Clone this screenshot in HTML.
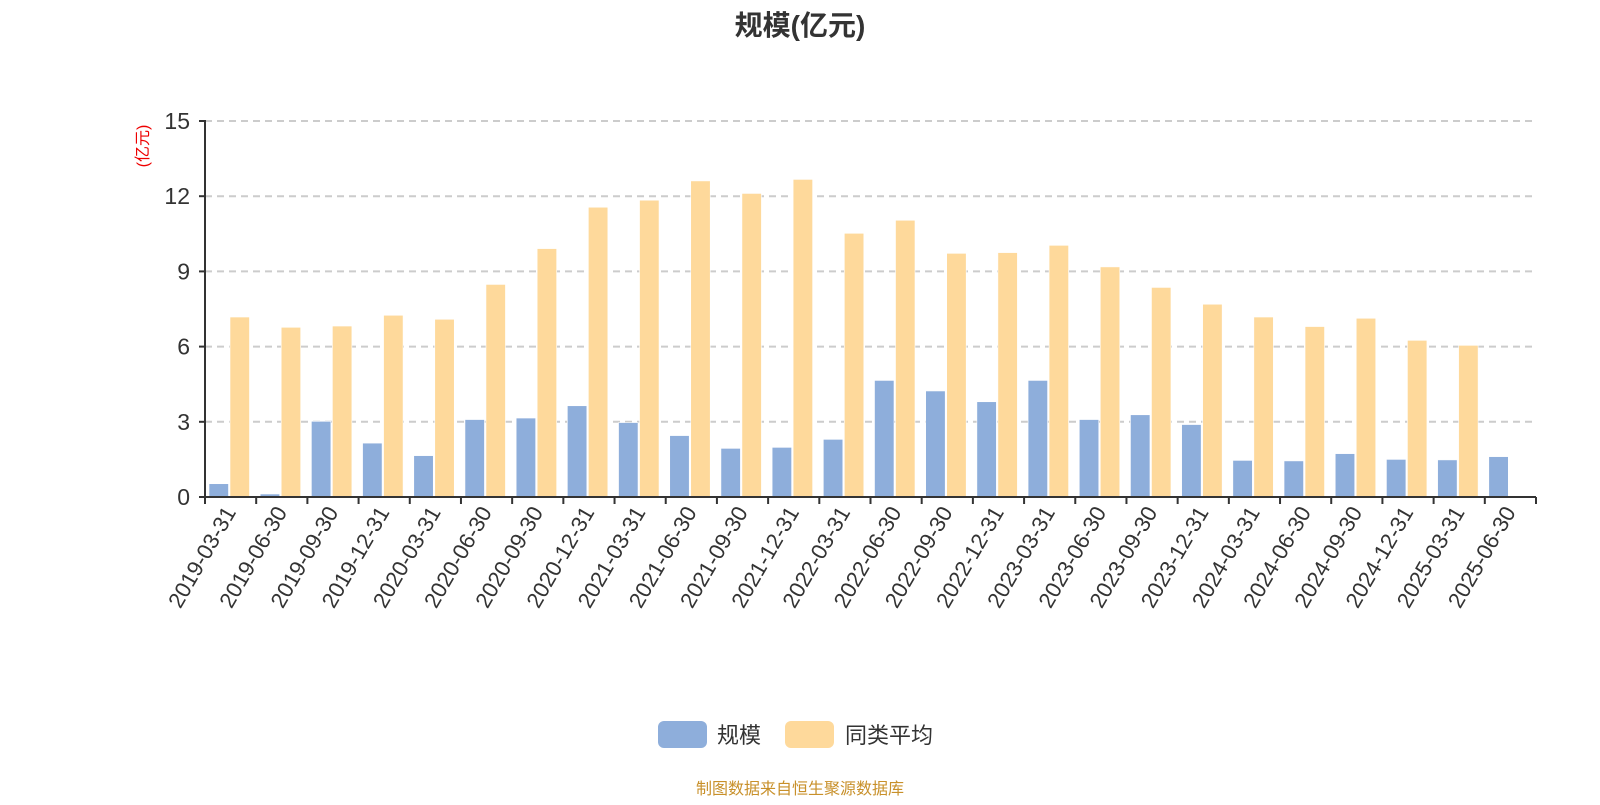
<!DOCTYPE html>
<html><head><meta charset="utf-8"><style>
body{margin:0;background:#fff;font-family:"Liberation Sans","Noto Sans CJK SC",sans-serif;}
svg text{font-family:"Liberation Sans","Noto Sans CJK SC",sans-serif;}
</style></head><body>
<svg id="c" width="1600" height="800" xmlns="http://www.w3.org/2000/svg">
<text x="800" y="35" text-anchor="middle" font-size="28" font-weight="bold" fill="#333">规模(亿元)</text>
<text transform="translate(148,146) rotate(-90)" text-anchor="middle" font-size="16" fill="#e00">(亿元)</text>
<g id="grid"></g><g id="bars"></g><g id="axes"></g>
<g>
<rect x="658" y="721" width="49" height="27" rx="6" fill="#8eaedb"/>
<text x="717" y="743" font-size="22" fill="#333">规模</text>
<rect x="785" y="721" width="49" height="27" rx="6" fill="#fed99b"/>
<text x="845" y="743" font-size="22" fill="#333">同类平均</text>
</g>
<text x="800" y="794" text-anchor="middle" font-size="16" fill="#c8902a">制图数据来自恒生聚源数据库</text>
</svg>
<script>
const categories=["2019-03-31","2019-06-30","2019-09-30","2019-12-31","2020-03-31","2020-06-30","2020-09-30","2020-12-31","2021-03-31","2021-06-30","2021-09-30","2021-12-31","2022-03-31","2022-06-30","2022-09-30","2022-12-31","2023-03-31","2023-06-30","2023-09-30","2023-12-31","2024-03-31","2024-06-30","2024-09-30","2024-12-31","2025-03-31","2025-06-30"];
const scaleValues=[0.53,0.12,3.02,2.15,1.65,3.09,3.15,3.64,2.97,2.45,1.94,1.98,2.30,4.65,4.23,3.80,4.65,3.09,3.28,2.89,1.46,1.44,1.73,1.50,1.48,1.61];
const avgValues=[7.18,6.77,6.82,7.25,7.09,8.48,9.91,11.56,11.84,12.61,12.11,12.67,10.52,11.04,9.72,9.75,10.04,9.18,8.36,7.69,7.18,6.80,7.13,6.25,6.05,null];
const yTicks=[0,3,6,9,12,15];
const NS="http://www.w3.org/2000/svg";
const X0=205,X1=1536,Y0=497,Y1=121,YMAX=15;
const bw=(X1-X0)/categories.length;
const y=v=>Y0-(v/YMAX)*(Y0-Y1);
const x=i=>X0+i*bw;
function mk(t,a,p){const e=document.createElementNS(NS,t);for(const k in a)e.setAttribute(k,a[k]);p.appendChild(e);return e;}
const grid=document.getElementById('grid'),bars=document.getElementById('bars'),axes=document.getElementById('axes');
yTicks.forEach(t=>{
 if(t>0){const l=mk('line',{x1:X0,x2:X1,y1:y(t),y2:y(t),stroke:'#ccc','stroke-width':2,'stroke-dasharray':'7,5'},grid);
 
 }
 const tk=mk('line',{x1:X0-6,x2:X0,y1:y(t),y2:y(t),stroke:'#333','stroke-width':2},axes);
 
 
 const tx=mk('text',{x:X0-15,y:y(t)+8,'text-anchor':'end','font-size':23,fill:'#333'},axes);tx.textContent=t;
 
 
});
categories.forEach((c,i)=>{
 const b=mk('rect',{x:x(i)+4,y:y(scaleValues[i]),width:19.5,height:Y0-y(scaleValues[i]),fill:'#8eaedb',stroke:'#fff','stroke-width':0.6},bars);
 
 
 if(avgValues[i]!=null){const o=mk('rect',{x:x(i)+25,y:y(avgValues[i]),width:19.5,height:Y0-y(avgValues[i]),fill:'#fed99b',stroke:'#fff','stroke-width':0.6},bars);
 
 }
 const tk=mk('line',{x1:x(i),x2:x(i),y1:Y0,y2:Y0+7,stroke:'#333','stroke-width':2},axes);
 
 
 const cx=x(i)+bw/2;
 const t=mk('text',{transform:`translate(${cx+6},${Y0+15}) rotate(-60)`,'text-anchor':'end','font-size':22,fill:'#333'},axes);t.textContent=c;
 
 
});
const lt=mk('line',{x1:X1,x2:X1,y1:Y0,y2:Y0+7,stroke:'#333','stroke-width':2},axes);


const ya=mk('line',{x1:X0,x2:X0,y1:Y1-1,y2:Y0,stroke:'#333','stroke-width':2},axes);


const xa=mk('line',{x1:X0,x2:X1,y1:Y0,y2:Y0,stroke:'#333','stroke-width':2},axes);


</script>
</body></html>
